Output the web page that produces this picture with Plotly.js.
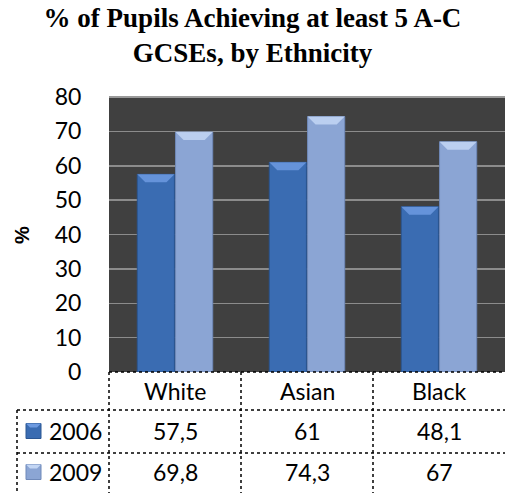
<!DOCTYPE html>
<html>
<head>
<meta charset="utf-8">
<script src="https://cdn.plot.ly/plotly-3.0.1.min.js"></script>
<style>
html,body{margin:0;padding:0;background:#fff;}
#chart{width:505px;height:493px;}
</style>
</head>
<body>
<div id="chart"></div>
<script>
// ---- data ----
var categories = ["White", "Asian", "Black"];
var seriesNames = ["2006", "2009"];
var values2006 = [57.5, 61, 48.1];
var values2009 = [69.8, 74.3, 67];
var valueLabels2006 = ["57,5", "61", "48,1"];
var valueLabels2009 = ["69,8", "74,3", "67"];
var yTicks = [0, 10, 20, 30, 40, 50, 60, 70, 80];

// ---- styles ----
var W = 505, H = 493;
var M = {l: 109, r: 0, t: 97, b: 121};
var plotH = H - M.t - M.b, plotW = W - M.l - M.r;
var yMax = 80;
function py(px) { return (H - M.b - px) / plotH; }     // pixel y -> paper y
function pxX(px) { return (px - M.l) / plotW; }         // pixel x -> paper x
var numFont = {family: "Lato, 'Liberation Sans', sans-serif", size: 23, color: "#000"};
var colors = ["#3a6cb2", "#8ba5d4"];
var lineColors = ["#2b5692", "#6f89b9"];
var bevelColors = ["#6d9ae0", "#c3d6f4"];
var bargap = 0.42, bargroupgap = 0.03;

var allValues = [values2006, values2009];
var traces = allValues.map(function (vals, s) {
  return {type: "bar", name: seriesNames[s], x: categories, y: vals,
    marker: {color: colors[s], line: {color: lineColors[s], width: 1}}, hoverinfo: "y"};
});

// table lines
var dash = {color: "#000", width: 1.5, dash: "dot"};
var shapes = [];
var rowY = [py(H - M.b), py(410), py(453), py(493)];
shapes.push({type: "line", xref: "paper", yref: "paper", x0: 0, x1: 1, y0: rowY[0], y1: rowY[0], line: dash});
shapes.push({type: "line", xref: "paper", yref: "paper", x0: pxX(17), x1: 1, y0: rowY[1], y1: rowY[1], line: dash});
shapes.push({type: "line", xref: "paper", yref: "paper", x0: pxX(17), x1: 1, y0: rowY[2], y1: rowY[2], line: dash});
shapes.push({type: "line", xref: "paper", yref: "paper", x0: 0, x1: 0, y0: rowY[0], y1: rowY[3], line: dash});
shapes.push({type: "line", xref: "paper", yref: "paper", x0: pxX(17), x1: pxX(17), y0: rowY[1], y1: rowY[3], line: dash});
for (var i = 0; i < categories.length - 1; i++) {
  shapes.push({type: "line", xref: "x", yref: "paper", x0: i + 0.5, x1: i + 0.5, y0: rowY[0], y1: rowY[3], line: dash});
}
// bevel tops of bars, derived from the data values
var slot = (1 - bargap) / 2, bw = slot * (1 - bargroupgap);
var bevelH = 8 * yMax / plotH;       // ~8px in data units
var inset = 8 / (plotW / 3);         // ~8px in category units
allValues.forEach(function (vals, s) {
  vals.forEach(function (v, i) {
    var cx = i + (s === 0 ? -slot / 2 : slot / 2);
    var x0 = cx - bw / 2, x1 = cx + bw / 2;
    shapes.push({type: "path", xref: "x", yref: "y", layer: "above",
      path: "M" + x0 + "," + v + " L" + x1 + "," + v + " L" + (x1 - inset) + "," + (v - bevelH) +
            " L" + (x0 + inset) + "," + (v - bevelH) + " Z",
      fillcolor: bevelColors[s], line: {width: 0}, opacity: 0.85});
  });
});
// legend keys
var keyRows = [431, 472];
for (var s = 0; s < 2; s++) {
  shapes.push({type: "rect", xref: "paper", yref: "paper",
    x0: pxX(26), x1: pxX(41), y0: py(keyRows[s] + 7.5), y1: py(keyRows[s] - 7.5),
    fillcolor: colors[s], line: {color: lineColors[s], width: 1}});
  shapes.push({type: "path", xref: "paper", yref: "paper",
    path: "M" + pxX(26) + "," + py(keyRows[s] - 7.5) + " L" + pxX(41) + "," + py(keyRows[s] - 7.5) +
          " L" + pxX(37) + "," + py(keyRows[s] - 3.5) + " L" + pxX(30) + "," + py(keyRows[s] - 3.5) + " Z",
    fillcolor: bevelColors[s], line: {width: 0}});
}
// top plot border
shapes.push({type: "line", xref: "paper", yref: "paper", x0: 0, x1: 1, y0: 1, y1: 1, line: {color: "#9a9a9a", width: 2}});

var annotations = [];
categories.forEach(function (c, i) {
  annotations.push({xref: "x", yref: "paper", x: c, y: py(391), text: c, showarrow: false, font: numFont, xanchor: "center", yanchor: "middle"});
  annotations.push({xref: "x", yref: "paper", x: c, y: py(keyRows[0]), text: valueLabels2006[i], showarrow: false, font: numFont, xanchor: "center", yanchor: "middle"});
  annotations.push({xref: "x", yref: "paper", x: c, y: py(keyRows[1]), text: valueLabels2009[i], showarrow: false, font: numFont, xanchor: "center", yanchor: "middle"});
});
seriesNames.forEach(function (n, s) {
  annotations.push({xref: "paper", yref: "paper", x: pxX(47), y: py(keyRows[s]), text: n, showarrow: false, font: numFont, xanchor: "left", yanchor: "middle"});
});
annotations.push({xref: "paper", yref: "paper", x: pxX(22), y: py(235), text: "<b>%</b>", textangle: -90, showarrow: false,
  font: {family: "'Liberation Sans', Arial, sans-serif", size: 20, color: "#000"}, xanchor: "center", yanchor: "middle"});

var layout = {
  width: W, height: H,
  margin: M,
  paper_bgcolor: "#ffffff",
  plot_bgcolor: "#404040",
  showlegend: false,
  bargap: bargap,
  bargroupgap: bargroupgap,
  title: {
    text: "<b>% of Pupils Achieving at least 5 A-C<br>GCSEs, by Ethnicity</b>",
    font: {family: "'Liberation Serif', 'Times New Roman', serif", size: 27, color: "#000"},
    x: 0.5, xref: "container", xanchor: "center",
    y: 1 - 27 / H, yref: "container", yanchor: "middle"
  },
  xaxis: {type: "category", showticklabels: false, showgrid: false, zeroline: false, ticks: "", fixedrange: true},
  yaxis: {range: [0, yMax], tickvals: yTicks, ticks: "outside", ticklen: 22, tickcolor: "rgba(0,0,0,0)",
    tickfont: numFont, showgrid: true, gridcolor: "#8c8c8c", gridwidth: 1.5, zeroline: false, showline: false, fixedrange: true},
  shapes: shapes,
  annotations: annotations
};

Plotly.newPlot("chart", traces, layout, {displayModeBar: false, staticPlot: true});
</script>
</body>
</html>
